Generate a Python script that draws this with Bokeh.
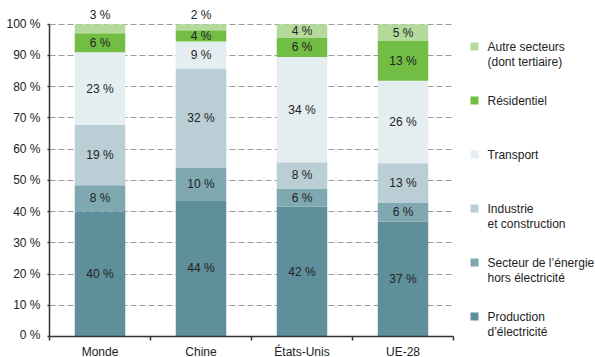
from bokeh.plotting import figure
from bokeh.layouts import row, column
from bokeh.models import FixedTicker, PrintfTickFormatter, Range1d, ColumnDataSource, LabelSet
from bokeh.core.properties import value
from bokeh.embed import file_html
from bokeh.resources import INLINE

categories = ["Monde", "Chine", "États-Unis", "UE-28"]
production = [40.0, 43.6, 41.6, 36.8]
energie = [8.4, 10.4, 5.8, 6.1]
industrie = [19.4, 31.8, 8.4, 12.6]
transport = [23.2, 8.7, 33.7, 26.4]
residentiel = [6.1, 3.6, 6.1, 12.7]
autres = [2.9, 1.9, 4.4, 5.4]

series_names = ["production", "energie", "industrie", "transport", "residentiel", "autres"]
series_values = [production, energie, industrie, transport, residentiel, autres]
series_labels = [["Production", "d’électricité"],
                 ["Secteur de l’énergie", "hors électricité"],
                 ["Industrie", "et construction"],
                 ["Transport"],
                 ["Résidentiel"],
                 ["Autre secteurs", "(dont tertiaire)"]]
colors = ["#5f8f9b", "#80a8b1", "#b9cfd5", "#e4eef1", "#72be44", "#b5db9c"]
y_ticks = list(range(0, 101, 10))

FONT = "Liberation Sans"
FS = "12px"
TXT = "#222222"

xs = [i + 0.5 for i in range(len(categories))]
data = {"x": xs}
for n, v in zip(series_names, series_values):
    data[n] = v
src = ColumnDataSource(data)

MAIN_H = 341
p = figure(width=460, height=MAIN_H, x_range=Range1d(0, 4), y_range=Range1d(0, 106),
           output_backend="svg", toolbar_location=None,
           min_border_left=49, min_border_right=7, min_border_top=5, min_border_bottom=5)
p.outline_line_color = None
p.background_fill_color = "white"
p.border_fill_color = "white"

p.vbar_stack(series_names, x="x", width=0.5, color=colors, line_color=None, source=src)

# value labels
lx, ly, lt = [], [], []
for i in range(len(categories)):
    base = 0.0
    for vals in series_values:
        v = vals[i]
        lx.append(xs[i])
        if v < 3.5:
            ly.append(103.1)
        else:
            ly.append(base + v / 2)
        lt.append("%d %%" % int(v + 0.5))
        base += v
lsrc = ColumnDataSource(dict(x=lx, y=ly, t=lt))
labels = LabelSet(x="x", y="y", text="t", source=lsrc, text_align="center", text_baseline="middle",
                  text_font=value(FONT), text_font_size=FS, text_color=TXT)
p.add_layout(labels)

p.xgrid.visible = False
p.ygrid.ticker = FixedTicker(ticks=y_ticks[1:])
p.ygrid.grid_line_color = "#9a9a9a"
p.ygrid.grid_line_dash = "6 3"
p.ygrid.grid_line_width = 1

ya = p.yaxis[0]
ya.bounds = (0, 100)
ya.ticker = FixedTicker(ticks=y_ticks)
ya.formatter = PrintfTickFormatter(format="%d %%")
ya.major_tick_out = 2
ya.major_tick_in = 0
ya.minor_tick_out = 0
ya.minor_tick_in = 0
ya.axis_line_color = "#333333"
ya.axis_line_width = 1.5
ya.major_tick_line_color = "#333333"
ya.major_tick_line_width = 1.5
ya.major_label_standoff = 7
ya.major_label_text_font = FONT
ya.major_label_text_font_size = FS
ya.major_label_text_color = TXT

xa = p.xaxis[0]
xa.ticker = FixedTicker(ticks=[], minor_ticks=list(range(len(categories) + 1)))
xa.major_label_standoff = 0
xa.major_tick_out = 0
xa.major_tick_in = 0
xa.minor_tick_out = 4
xa.minor_tick_in = 0
xa.minor_tick_line_color = "#333333"
xa.minor_tick_line_width = 1.5
xa.axis_line_color = "#333333"
xa.axis_line_width = 1.5

# category labels strip below the axis (shares the x range)
STRIP_H = 357 - MAIN_H
strip = figure(width=460, height=STRIP_H, x_range=p.x_range, y_range=Range1d(STRIP_H, 0),
               output_backend="svg", toolbar_location=None,
               x_axis_location=None, y_axis_location=None,
               min_border_left=49, min_border_right=7, min_border_top=0, min_border_bottom=0)
strip.grid.visible = False
strip.outline_line_color = None
strip.text(x=xs, y=[10] * len(xs), text=categories, text_align="center", text_baseline="middle",
           text_font=value(FONT), text_font_size=FS, text_color=TXT)

# legend panel
lf = figure(width=135, height=357, x_range=Range1d(0, 135), y_range=Range1d(357, 0),
            output_backend="svg", toolbar_location=None,
            x_axis_location=None, y_axis_location=None,
            min_border_left=0, min_border_right=0, min_border_top=0, min_border_bottom=0)
lf.grid.visible = False
lf.outline_line_color = None

leg_y = [316, 262, 208, 154, 100, 46]
lf.rect(x=[14] * 6, y=leg_y, width=8, height=8, fill_color=colors, line_color=None)
tx, ty, tt = [], [], []
for yy, lines in zip(leg_y, series_labels):
    for k, line in enumerate(lines):
        tx.append(27)
        ty.append(yy + 15 * k)
        tt.append(line)
lf.text(x=tx, y=ty, text=tt, text_align="left", text_baseline="middle",
        text_font=value(FONT), text_font_size=FS, text_color=TXT)

layout = row(column(p, strip), lf)
open("out.html", "w").write(file_html(layout, INLINE))
